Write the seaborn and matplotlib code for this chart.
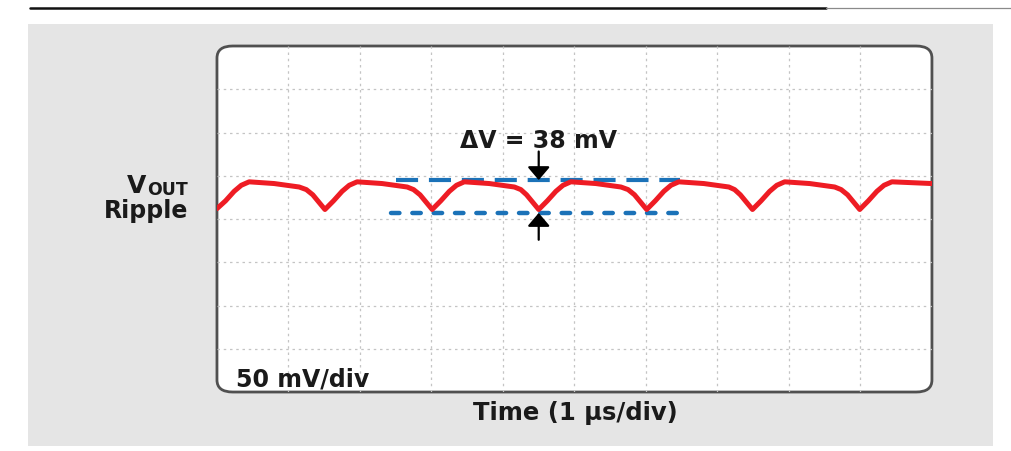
"""
VOUT ripple scope capture -- 50 mV/div, 1 us/div
"""

import matplotlib
matplotlib.use("Agg")
import matplotlib.pyplot as plt
import seaborn as sns
from matplotlib.patches import FancyBboxPatch, Rectangle
from matplotlib.lines import Line2D

# ---- data (time in us, ripple in mV around centre) ----
time_us = [0.00, 0.12, 0.24, 0.34, 0.45, 0.80, 1.15, 1.25, 1.34, 1.43,
           1.51, 1.63, 1.75, 1.85, 1.96, 2.31, 2.66, 2.75, 2.84, 2.93,
           3.01, 3.13, 3.25, 3.35, 3.46, 3.81, 4.16, 4.25, 4.33, 4.42,
           4.50, 4.62, 4.74, 4.84, 4.95, 5.30, 5.65, 5.75, 5.84, 5.93,
           6.01, 6.13, 6.25, 6.35, 6.46, 6.81, 7.16, 7.24, 7.32, 7.41,
           7.49, 7.61, 7.73, 7.83, 7.94, 8.29, 8.64, 8.73, 8.82, 8.91,
           8.99, 9.11, 9.23, 9.33, 9.44, 10.00]
ripple_mv = [12, 21, 32, 39, 43, 41, 37, 34, 28, 19,
             11, 21, 32, 39, 43, 41, 37, 34, 28, 19,
             11, 21, 32, 39, 43, 41, 37, 34, 28, 19,
             11, 21, 32, 39, 43, 41, 37, 34, 28, 19,
             11, 21, 32, 39, 43, 41, 37, 34, 28, 19,
             11, 21, 32, 39, 43, 41, 37, 34, 28, 19,
             11, 21, 32, 39, 43, 41]

peak_level = 45      # upper dashed marker
valley_level = 7     # lower dotted marker
marker_span = [2.50, 6.48]
delta_label = "\u0394V = 38 mV"

x_divs = list(range(0, 11))                 # 1 us/div
y_divs = list(range(-200, 201, 50))         # 50 mV/div

RED = "#ee1c24"
BLUE = "#1b72b8"
INK = "#1a1a1a"
FONT = "DejaVu Sans"

sns.set_theme(style="white")
plt.rcParams["font.family"] = [FONT]

fig = plt.figure(figsize=(10.12, 4.52), dpi=100)

# grey panel + header rule
fig.add_artist(Rectangle((0.0277, 0.011), 0.954, 0.934, transform=fig.transFigure,
                         facecolor="#e5e5e5", edgecolor="none", zorder=-10))
fig.add_artist(Line2D([0.030, 0.816], [0.980, 0.980], color="#111111", lw=1.8))
fig.add_artist(Line2D([0.816, 1.0], [0.979, 0.979], color="#8a8a8a", lw=0.9))

ax = fig.add_axes([0.2144, 0.1305, 0.7065, 0.7655])
ax.patch.set_visible(False)
for s in ax.spines.values():
    s.set_visible(False)

# rounded scope screen
ax.add_patch(FancyBboxPatch((0, 0), 1, 1, boxstyle="round,pad=0,rounding_size=0.022",
                            mutation_aspect=1.58, transform=ax.transAxes,
                            facecolor="white", edgecolor="#505050", lw=2.0,
                            zorder=0, clip_on=False))

ax.set_xlim(x_divs[0], x_divs[-1])
ax.set_ylim(y_divs[0], y_divs[-1])
ax.set_xticks(x_divs[1:-1])
ax.set_yticks(y_divs[1:-1])
ax.tick_params(length=0, labelbottom=False, labelleft=False)
ax.set_axisbelow(True)
ax.grid(True, color="#c4c4c4", ls=(0, (2, 3)), lw=0.9)

# peak / valley markers
ax.plot(marker_span, [peak_level] * 2, color=BLUE, lw=3, ls=(0, (5.3, 2.6)),
        dash_capstyle="butt", zorder=2)
ax.plot([marker_span[0] - 0.06, marker_span[1] - 0.03], [valley_level] * 2, color=BLUE,
        lw=3.2, ls=(0, (1.9, 2.9)), dash_capstyle="round", zorder=2)

sns.lineplot(x=time_us, y=ripple_mv, color=RED, lw=3.6, sort=False, ax=ax, zorder=3)
ax.lines[-1].set_solid_joinstyle("round")
ax.lines[-1].set_solid_capstyle("round")
ax.set_xlabel("")
ax.set_ylabel("")

# delta-V arrows
arrow_x = 4.5
head = dict(arrowstyle="-|>,head_length=0.4,head_width=0.34", color="black",
            lw=1.6, mutation_scale=20, shrinkA=0, shrinkB=0)
ax.annotate("", xy=(arrow_x, peak_level), xytext=(arrow_x, 78), arrowprops=head, zorder=4)
ax.annotate("", xy=(arrow_x, valley_level), xytext=(arrow_x, -24), arrowprops=head, zorder=4)
ax.text(arrow_x, 91, delta_label, ha="center", va="center", fontsize=17,
        fontweight="bold", color=INK, zorder=4)

ax.text(0.027, 0.038, "50 mV/div", transform=ax.transAxes, ha="left", va="center",
        fontsize=17, fontweight="bold", color=INK)

fig.text(0.569, 0.086, "Time (1 \u00b5s/div)", ha="center", va="center",
         fontsize=17.5, fontweight="bold", color=INK)

# channel label
fig.text(0.1445, 1 - 193 / 452, "V", ha="right", va="baseline", fontsize=18,
         fontweight="bold", color=INK)
fig.text(0.186, 1 - 195 / 452, "OUT", ha="right", va="baseline", fontsize=12.5,
         fontweight="bold", color=INK)
fig.text(0.186, 1 - 218 / 452, "Ripple", ha="right", va="baseline", fontsize=17,
         fontweight="bold", color=INK)

fig.savefig("out.png", dpi=100)
